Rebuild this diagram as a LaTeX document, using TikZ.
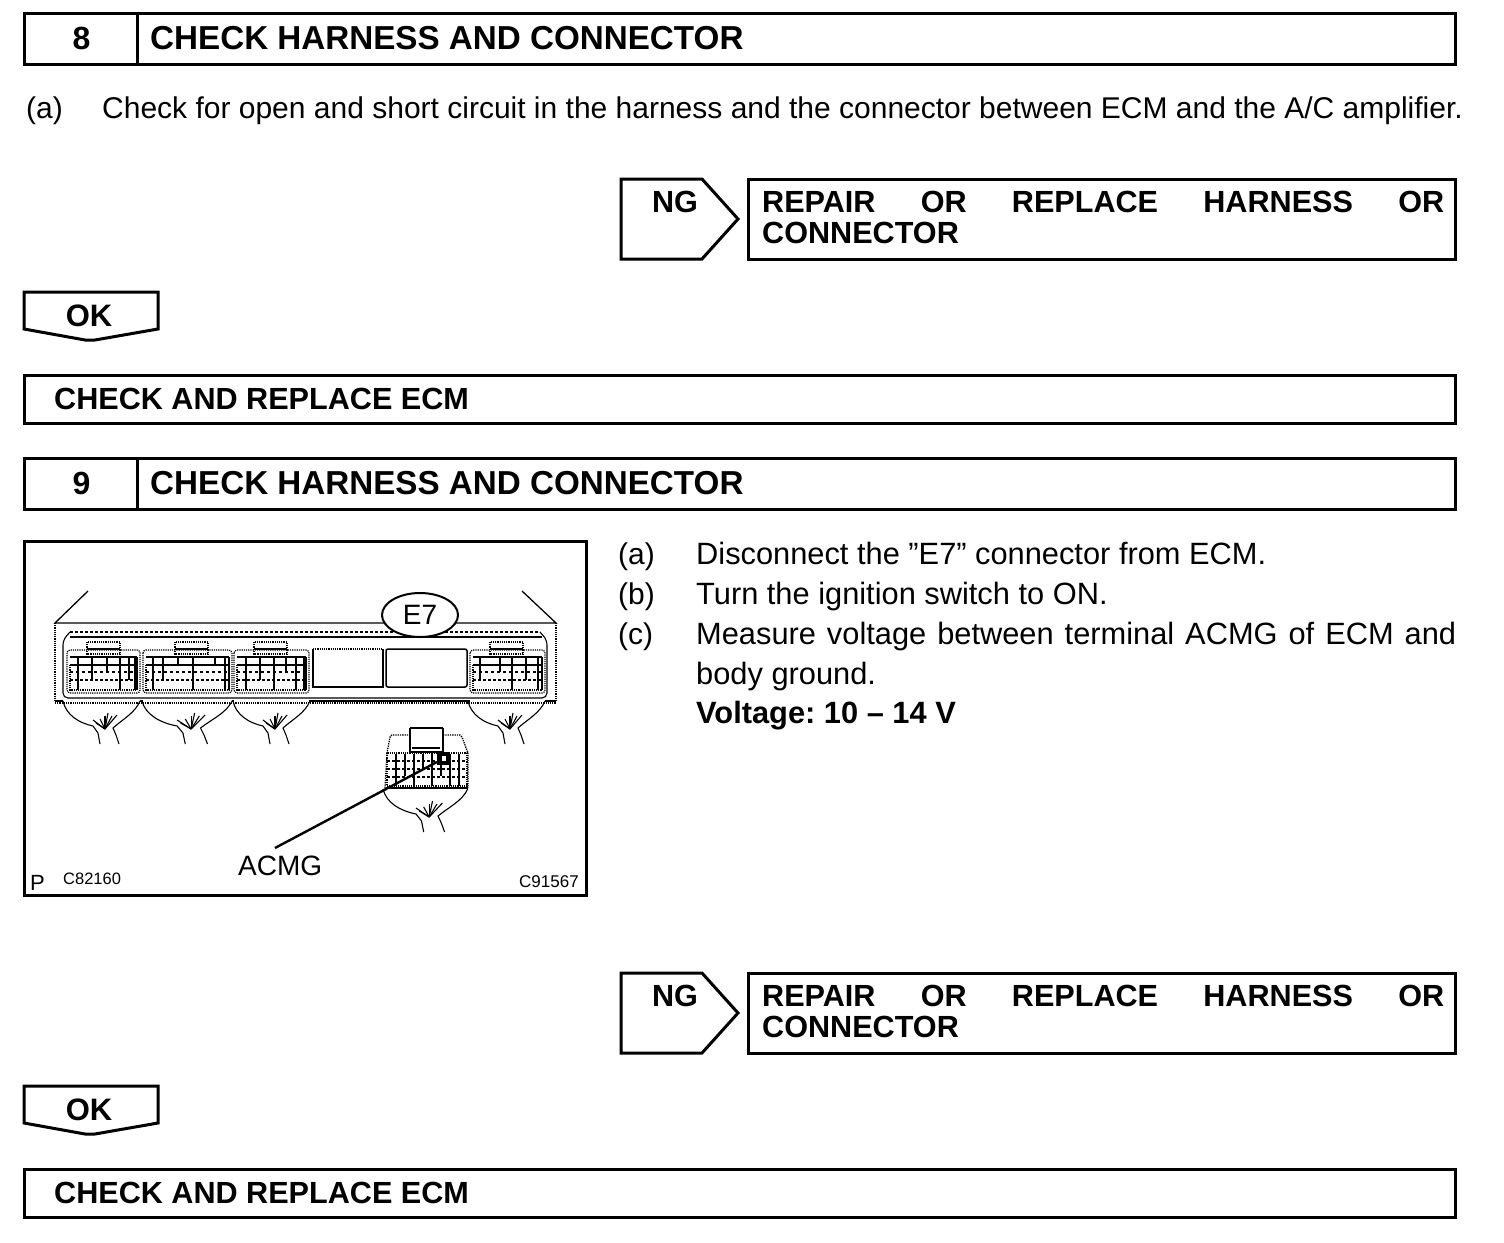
\documentclass[tikz,border=0pt]{standalone}
\usepackage{fontspec}
\setmainfont{Liberation Sans}
\usetikzlibrary{shapes.geometric}
\tikzset{
  box/.style={draw,line width=3pt,line join=miter},
  bodytxt/.style={inner sep=0pt,anchor=base west,font=\fontsize{30}{39}\selectfont},
  steptxt/.style={inner sep=0pt,anchor=base west,font=\fontsize{30.8}{39}\selectfont},
  headtxt/.style={inner sep=0pt,anchor=base west,font=\bfseries\fontsize{30.6}{31}\selectfont},
  titletxt/.style={inner sep=0pt,anchor=base west,font=\bfseries\fontsize{33.2}{33}\selectfont},
  fine/.style={line width=1.1pt},
  dots/.style={line width=1.2pt,densely dotted},
}
% one connector of the ECM: left x, width, left x of the tab, columns as x/bottom, top y
\newcommand{\ecmconn}[5]{
  \draw[dots,rounded corners=3pt] (#1,#5) rectangle (#1+#2,#5+43);
  \draw[dots] (#3,#5-8) rectangle (#3+33,#5+4);
  \draw[fine] (#3,#5-1) -- (#3+33,#5-1);
  \draw[line width=1.4pt] (#1+3,#5+7) -- (#1+#2-3,#5+7);
  \draw[line width=1.4pt] (#1+3,#5+15) -- (#1+#2-3,#5+15);
  \draw[fine,dashed] (#1+3,#5+22) -- (#1+#2-3,#5+22);
  \draw[fine,densely dashed] (#1+3,#5+30) -- (#1+#2-3,#5+30);
  \draw[dots] (#1+3,#5+15) rectangle (#1+#2-3,#5+40);
  \draw[fine] (#1+#2-3,#5+7) -- (#1+#2-3,#5+40);
  \foreach \cx/\cb in {#4}
    \draw[fine] (#1+\cx,#5+7) -- (#1+\cx,#5+\cb);
}
% wire bundle below a connector
\newcommand{\wirebundle}[3]{
  \begin{scope}[shift={(#1,#2)},xscale=#3,fine]
    \draw (0,0) .. controls (3,14) and (16,22) .. (30,25) -- (35,32) -- (37,43);
    \draw (77,0) .. controls (72,12) and (60,18) .. (50,27) -- (53,34) -- (56,43);
    \foreach \fx/\fy in {30/19,37/18,42/15,45/12,49/15,54/14,33/22}
      \draw (42,28) -- (\fx,\fy);
  \end{scope}
}
\begin{document}
\begin{tikzpicture}[x=1pt,y=-1pt]
\useasboundingbox (0,0) rectangle (1504,1242);

% headers
\foreach \nr/\yy in {8/0,9/445} {
  \draw[box] (24,13+\yy) rectangle (1455,64+\yy);
  \draw[box] (137,13+\yy) -- (137,64+\yy);
  \node[headtxt,anchor=base,font=\bfseries\fontsize{32}{32}\selectfont] (nr\nr) at (81.5,49+\yy) {\nr};
  \node[titletxt] (title\nr) at (150,49+\yy) {CHECK HARNESS AND CONNECTOR};
}

\node[bodytxt] (itemtop) at (26,118) {(a)};
\node[bodytxt] (texttop) at (102,118) {Check for open and short circuit in the harness and the connector between ECM and the A/C amplifier.};

% NG, OK and the last box
\foreach \blk/\yy in {a/0,b/794} {
  \draw[box] (621,179+\yy) -- (702,179+\yy) -- (738,219+\yy) -- (702,259+\yy) -- (621,259+\yy) -- cycle;
  \node[headtxt,anchor=base] (ng\blk) at (675,212+\yy) {NG};
  \draw[box] (748,179+\yy) rectangle (1455,259+\yy);
  \node[headtxt] (rep\blk) at (762,212+\yy) {\hbox to 682pt{REPAIR\hfill OR\hfill REPLACE\hfill HARNESS\hfill OR}};
  \node[headtxt] (con\blk) at (762,243+\yy) {CONNECTOR};
  \draw[box] (24,292+\yy) -- (158,292+\yy) -- (158,329+\yy) -- (95,340+\yy) -- (85,340+\yy) -- (24,329+\yy) -- cycle;
  \node[headtxt,anchor=base,font=\bfseries\fontsize{31}{31}\selectfont] (ok\blk) at (89,326+\yy) {OK};
  \draw[box] (24,375+\yy) rectangle (1455,423+\yy);
  \node[headtxt] (ecm\blk) at (54,409+\yy) {CHECK AND REPLACE ECM};
}

% steps of 9
\node[bodytxt] (itema) at (618,564) {(a)};
\node[steptxt] (texta) at (696,564) {Disconnect the ”E7” connector from ECM.};
\node[bodytxt] (itemb) at (618,604) {(b)};
\node[steptxt] (textb) at (696,604) {Turn the ignition switch to ON.};
\node[bodytxt] (itemc) at (618,644) {(c)};
\node[steptxt] (textc) at (696,644) {\hbox to 760pt{Measure\hfill voltage\hfill between\hfill terminal\hfill ACMG\hfill of\hfill ECM\hfill and}};
\node[steptxt] (textd) at (696,684) {body ground.};
\node[steptxt,font=\bfseries\fontsize{30.8}{39}\selectfont] (volt) at (696,723) {Voltage:\ 10 -- 14 V};

% figure
\draw[box] (24,541) rectangle (586,895);

% ECM housing
\draw[line width=1.3pt] (88,591) -- (55,623) -- (556,623) -- (522,591);
\draw[dots] (55,623) -- (55,701);
\draw[dots] (556,623) -- (556,702);
\draw[fine] (55,701) -- (63,701);
\draw[fine] (140,701) -- (143,701);
\draw[fine] (232,701) -- (234,701);
\draw[fine] (309,701) -- (470,701);
\draw[fine] (545,701) -- (556,701);
\draw[dots] (55,703) -- (556,703);
\draw[line width=1.5pt,densely dashed] (70,632) -- (540,632);
\draw[fine] (70,637) -- (542,637);
\draw[fine,rounded corners=5pt] (70,632) -- (63,640) -- (63,698) -- (547,698) -- (547,640) -- (540,632);
\draw[dots] (313,649) -- (383,649);
\draw[fine] (313,649) -- (313,687) -- (383,687) -- (383,649);
\draw[line width=1.5pt,rounded corners=2pt] (386,649) rectangle (467,687);

\ecmconn{67}{73}{87}{11/40,25/30,40/22,53/40,62/30,68/40}{650}
\ecmconn{143}{89}{175}{10/40,20/30,35/15,50/40,72/15,82/40}{650}
\ecmconn{234}{75}{254}{12/40,26/30,40/40,52/22,62/40,70/40}{650}
\ecmconn{470}{75}{490}{10/30,30/22,42/40,56/30,68/40}{650}

\wirebundle{63}{701}{1}
\wirebundle{142}{701}{1.17}
\wirebundle{233}{701}{1}
\wirebundle{468}{701}{1}

\node[draw,ellipse,line width=2pt,fill=white,minimum width=76pt,minimum height=44pt,inner sep=0pt,font=\fontsize{28}{28}\selectfont] (tagE) at (420,615) {E7};

% loose connector
\draw[line width=1.3pt,densely dotted] (385,788) -- (387,753) -- (390,737) -- (392,735) -- (410,735);
\draw[line width=1.3pt,densely dotted] (443,735) -- (460,735) -- (462,737) -- (468,753) -- (468,788);
\draw[line width=2pt] (410,728) -- (443,728);
\draw[fine] (410,728) -- (410,752) -- (443,752) -- (443,728);
\draw[fine] (412,748) -- (440,748);
\draw[line width=2pt] (386,788) -- (468,788);
\draw[dots] (387,753) rectangle (467,786);
\foreach \gy in {761,769,777}
  \draw[fine,densely dashed] (387,\gy) -- (467,\gy);
\foreach \gx/\gb in {396/786,405/776,414/786,423/770,432/786,441/776,450/786,459/786}
  \draw[fine] (\gx,754) -- (\gx,\gb);
\wirebundle{383}{789}{1.1}

\node[draw=black,fill=white,line width=4.5pt,minimum width=8.5pt,minimum height=9pt,inner sep=0pt] (pin) at (443.5,758.5) {};
\coordinate (leadend) at (275,848);
\draw[line width=2.4pt] (pin) -- (leadend);

\node[inner sep=0pt,anchor=base west,font=\fontsize{28}{28}\selectfont] (acmg) at (238,875) {ACMG};
\node[inner sep=0pt,anchor=base west,font=\fontsize{22}{22}\selectfont] (pmark) at (30,890) {P};
\node[inner sep=0pt,anchor=base west,font=\fontsize{16.5}{17}\selectfont] (codea) at (63,884) {C82160};
\node[inner sep=0pt,anchor=base west,font=\fontsize{17}{17}\selectfont] (codeb) at (519,887) {C91567};
\end{tikzpicture}
\end{document}
